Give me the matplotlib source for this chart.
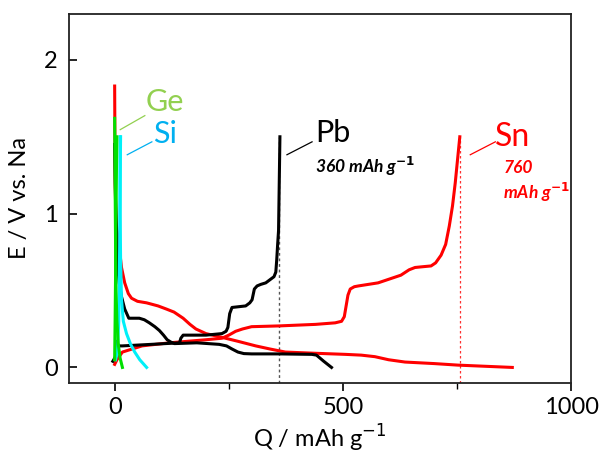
import matplotlib
matplotlib.use("Agg")
import matplotlib.pyplot as plt
from matplotlib.ticker import MultipleLocator

plt.rcParams['font.family'] = ['Lato', 'DejaVu Sans']

# ---- data (Q in mAh/g, E in V vs Na) ----
sn_dis_q = [0, 1, 3, 6, 9, 15, 22, 30, 37, 50, 70, 95, 113, 130, 150, 165, 178, 200, 229, 270, 309, 340, 374,
            440, 505, 540, 570, 600, 636, 700, 752, 871]
sn_dis_e = [1.83, 1.2, 0.95, 0.87, 0.81, 0.65, 0.55, 0.48, 0.45, 0.43, 0.42, 0.40, 0.38, 0.36, 0.32, 0.28, 0.25,
            0.22, 0.20, 0.17, 0.14, 0.12, 0.10, 0.092, 0.085, 0.08, 0.07, 0.05, 0.035, 0.025, 0.015, 0.0]
sn_ch_q = [0, 5, 17, 60, 120, 200, 235, 250, 265, 280, 300, 360, 440, 483, 497, 503, 507, 511, 516, 525, 534, 577,
           627, 645, 658, 675, 693, 703, 715, 725, 733, 740, 746, 751, 756]
sn_ch_e = [0.02, 0.05, 0.1, 0.14, 0.16, 0.18, 0.19, 0.21, 0.235, 0.25, 0.265, 0.27, 0.28, 0.29, 0.30, 0.33, 0.40,
           0.47, 0.51, 0.525, 0.53, 0.55, 0.60, 0.635, 0.65, 0.655, 0.66, 0.68, 0.73, 0.80, 0.92, 1.05, 1.20, 1.35, 1.50]

pb_dis_q = [0, 2, 5, 7, 10, 15, 22, 31, 40, 54, 65, 76, 88, 98, 107, 115, 123, 131, 180, 229, 245, 257, 270, 283,
            300, 360, 432, 442, 450, 458, 475]
pb_dis_e = [1.45, 1.1, 0.8, 0.65, 0.55, 0.46, 0.38, 0.32, 0.32, 0.32, 0.31, 0.29, 0.265, 0.24, 0.21, 0.18, 0.165,
            0.155, 0.16, 0.15, 0.14, 0.12, 0.10, 0.09, 0.088, 0.088, 0.085, 0.08, 0.06, 0.04, 0.0]
pb_ch_q = [-4, 2, 5, 8, 17, 80, 142, 145, 150, 200, 235, 244, 248, 252, 257, 287, 296, 301, 306, 312, 320, 331,
           349, 353, 355, 357, 359, 362]
pb_ch_e = [0.04, 0.07, 0.17, 0.14, 0.14, 0.15, 0.16, 0.19, 0.21, 0.21, 0.22, 0.235, 0.26, 0.35, 0.39, 0.40, 0.42,
           0.44, 0.51, 0.53, 0.54, 0.55, 0.59, 0.62, 0.70, 0.80, 0.89, 1.50]

ge_dis_q = [0, 1, 2, 3, 5, 8, 12, 17]
ge_dis_e = [1.62, 1.2, 0.8, 0.5, 0.3, 0.15, 0.06, 0.0]
ge_ch_q = [0, 1, 2, 3, 4, 5]
ge_ch_e = [0.05, 0.3, 0.6, 1.0, 1.3, 1.5]

si_dis_q = [12, 12, 13, 15, 19, 26, 35, 44, 55, 70]
si_dis_e = [1.5, 1.0, 0.7, 0.44, 0.3, 0.22, 0.15, 0.10, 0.05, 0.0]
si_ch_q = [2, 6, 9, 11, 12, 13]
si_ch_e = [0.05, 0.1, 0.3, 0.8, 1.2, 1.5]

pb_cap = 360
sn_cap = 757

fig, ax = plt.subplots(figsize=(6.0, 4.59), dpi=100)
fig.subplots_adjust(left=0.115, right=0.952, top=0.970, bottom=0.166)

lw = 2.2
ax.plot([pb_cap, pb_cap], [-0.1, 1.5], color='#555555', lw=1.0, ls=(0, (2, 2)))
ax.plot([sn_cap, sn_cap], [-0.1, 1.5], color='#ff3030', lw=0.9, ls=(0, (2, 2)))
ax.plot(sn_dis_q, sn_dis_e, color='#ff0000', lw=lw)
ax.plot(sn_ch_q, sn_ch_e, color='#ff0000', lw=lw)
ax.plot(pb_dis_q, pb_dis_e, color='black', lw=lw)
ax.plot(pb_ch_q, pb_ch_e, color='black', lw=lw)
ax.plot(si_dis_q, si_dis_e, color='#00f0f8', lw=lw)
ax.plot(si_ch_q, si_ch_e, color='#00f0f8', lw=lw)
ax.plot(ge_dis_q, ge_dis_e, color='#00e000', lw=lw)
ax.plot(ge_ch_q, ge_ch_e, color='#00e000', lw=lw)

ax.set_xlim(-100, 1000)
ax.set_ylim(-0.1, 2.3)
ax.set_xticks([0, 500, 1000])
ax.xaxis.set_minor_locator(MultipleLocator(250))
ax.set_yticks([0, 1, 2])
ax.tick_params(axis='x', which='major', direction='out', length=6, width=1.2, labelsize=17, pad=4)
ax.tick_params(axis='x', which='minor', direction='out', length=4, width=1.0)
ax.tick_params(axis='y', which='major', direction='in', length=6, width=1.2, labelsize=17, pad=8)
for s in ax.spines.values():
    s.set_linewidth(1.3)
    s.set_color('#222222')

ax.set_xlabel('Q / mAh g$^{-1}$', fontsize=17, labelpad=4)
ax.set_ylabel('E / V vs. Na', fontsize=17, labelpad=10)

# labels
ax.text(0.191, 0.762, 'Ge', transform=ax.transAxes, color='#92d050', fontsize=22, ha='center', va='center')
ax.text(0.191, 0.675, 'Si', transform=ax.transAxes, color='#00b0f0', fontsize=22, ha='center', va='center')
ax.text(0.525, 0.677, 'Pb', transform=ax.transAxes, color='black', fontsize=22, ha='center', va='center')
ax.text(0.883, 0.665, 'Sn', transform=ax.transAxes, color='#ff0000', fontsize=23, ha='center', va='center')
ax.text(0.49, 0.585, '360 mAh g$^{\\mathbf{-1}}$', transform=ax.transAxes, color='black', fontsize=12.5,
        fontweight='bold', fontstyle='italic', ha='left', va='center')
ax.text(0.865, 0.582, '760', transform=ax.transAxes, color='#ff0000', fontsize=12.5,
        fontweight='bold', fontstyle='italic', ha='left', va='center')
ax.text(0.865, 0.515, 'mAh g$^{\\mathbf{-1}}$', transform=ax.transAxes, color='#ff0000', fontsize=12.5,
        fontweight='bold', fontstyle='italic', ha='left', va='center')

# leader lines
ax.plot([0.151, 0.102], [0.724, 0.686], transform=ax.transAxes, color='#92d050', lw=0.9)
ax.plot([0.165, 0.116], [0.653, 0.618], transform=ax.transAxes, color='#00b0f0', lw=0.9)
ax.plot([0.484, 0.434], [0.653, 0.618], transform=ax.transAxes, color='black', lw=0.9)
ax.plot([0.849, 0.799], [0.653, 0.618], transform=ax.transAxes, color='#ff0000', lw=0.9)

fig.savefig('out.png', dpi=100)
